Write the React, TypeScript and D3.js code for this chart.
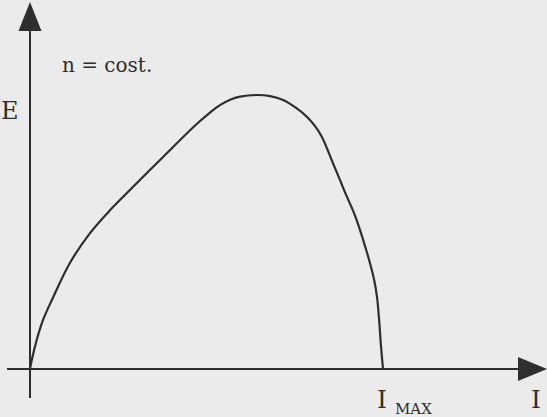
import React from "react";
import * as d3 from "d3";

// Curve data: current I (as fraction of I_MAX) vs E (as fraction of peak)
const currentI: number[] = [0, 0.005, 0.019, 0.037, 0.062, 0.113, 0.17, 0.227, 0.283, 0.377, 0.473, 0.51, 0.538, 0.567, 0.595, 0.643, 0.68, 0.717, 0.751, 0.785, 0.807, 0.827, 0.858, 0.878, 0.898, 0.918, 0.935, 0.949, 0.963, 0.975, 0.983, 0.989, 0.994, 1.0];
const valueE: number[] = [0, 0.033, 0.106, 0.179, 0.252, 0.387, 0.496, 0.58, 0.653, 0.774, 0.895, 0.936, 0.963, 0.983, 0.994, 1.0, 0.996, 0.982, 0.956, 0.92, 0.887, 0.847, 0.752, 0.69, 0.628, 0.569, 0.507, 0.449, 0.387, 0.325, 0.263, 0.179, 0.088, 0];

const labelY = "E";
const labelX = "I";
const labelMax = "I";
const labelMaxSub = "MAX";
const note = "n = cost.";

const W = 547;
const H = 417;

export default function App() {
  const x = d3.scaleLinear().domain([0, 1]).range([30, 383]);
  const y = d3.scaleLinear().domain([0, 1]).range([369, 95]);
  const pts: [number, number][] = currentI.map((v, i) => [x(v), y(valueE[i])]);
  const line = d3.line<[number, number]>().x(d => d[0]).y(d => d[1]).curve(d3.curveCatmullRom.alpha(0.5));
  const ink = "#2e2e2e";
  const ox = x(0);
  const oy = y(0);
  const tstyle: React.CSSProperties = { fontFamily: '"DejaVu Serif", "Liberation Serif", serif' };
  return (
    <svg width={W} height={H} style={{ position: "fixed", left: 0, top: 0, background: "#ebebeb" }}>
      <rect width={W} height={H} fill="#ebebeb" />
      {/* vertical axis */}
      <line x1={ox} y1={398} x2={ox} y2={28} stroke={ink} strokeWidth={2} />
      <path d={`M${ox},2 L${ox - 11.5},31 L${ox + 11.5},31 Z`} fill={ink} />
      {/* horizontal axis */}
      <line x1={7} y1={oy} x2={520} y2={oy} stroke={ink} strokeWidth={2} />
      <path d={`M547,${oy} L518,${oy - 12} L518,${oy + 12} Z`} fill={ink} />
      {/* curve */}
      <path d={line(pts) || ""} fill="none" stroke={ink} strokeWidth={2.2} />
      {/* labels */}
      <text x={1} y={119} style={tstyle} fontSize={24} fill={ink}>{labelY}</text>
      <text x={62} y={72} style={tstyle} fontSize={20} fill={ink}>{note}</text>
      <text x={377} y={408} style={tstyle} fontSize={25} fill={ink}>{labelMax}</text>
      <text x={395} y={414} style={tstyle} fontSize={15} fill={ink}>{labelMaxSub}</text>
      <text x={531} y={408} style={tstyle} fontSize={25} fill={ink}>{labelX}</text>
    </svg>
  );
}
